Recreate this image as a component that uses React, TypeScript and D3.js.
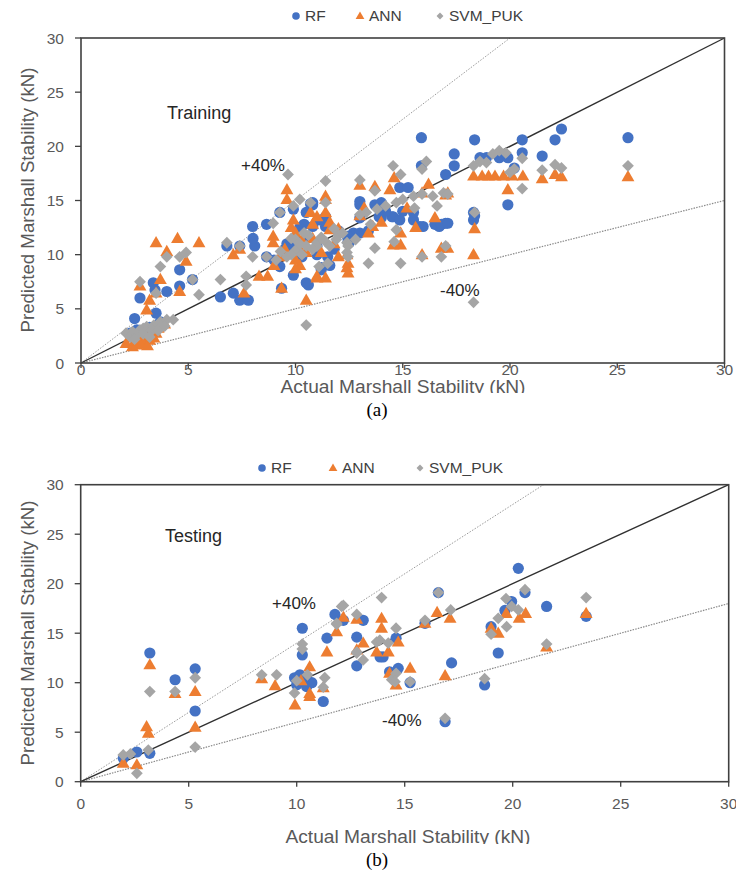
import React from "react";
import * as d3 from "d3";

type Pt = [number, number];

// ---------- DATA ----------
const tickValues = [0, 5, 10, 15, 20, 25, 30];
const seriesNames = ["RF", "ANN", "SVM_PUK"];
const seriesColors = ["#4472C4", "#ED7D31", "#A5A5A5"];
const seriesShapes = ["circle", "triangle", "diamond"];

const trainRF: Pt[] = [
  [2.3, 2.75], [2.6, 3.05], [2.5, 4.1], [2.75, 6.0], [3.37, 7.4], [3.5, 4.6], [3.7, 3.8], [2.7, 2.5], [3.0, 3.0],
  [3.2, 3.3], [3.45, 6.75], [4.0, 6.6], [4.6, 8.6], [4.6, 7.1], [5.2, 7.7], [6.5, 6.1], [7.1, 6.45], [7.4, 5.8],
  [7.8, 5.8], [6.8, 10.8], [7.4, 10.8], [8.0, 12.6], [8.65, 12.8], [9.27, 13.9], [8.1, 10.8], [8.65, 9.8],
  [9.27, 8.9], [9.35, 6.9], [9.9, 8.1], [10.5, 7.4], [10.8, 14.8], [10.5, 13.9], [9.9, 14.2], [10.8, 12.6],
  [11.4, 13.5], [11.4, 12.6], [12.4, 11.7], [12.7, 12.0], [8.02, 11.5], [10.8, 14.6], [11.4, 13.4], [12.5, 11.5],
  [12.5, 11.1], [13.0, 14.6], [13.0, 12.0], [13.7, 14.6], [13.9, 13.5], [14.5, 13.5], [15.0, 14.0], [15.5, 13.2],
  [15.8, 12.6], [16.7, 12.6], [17.0, 12.9], [18.3, 13.9], [18.3, 13.2], [10.6, 7.2], [11.2, 8.8], [11.5, 9.8],
  [10.7, 14.7], [13.0, 14.9], [14.0, 14.8], [13.0, 13.4], [14.0, 13.4], [12.45, 11.7], [12.45, 11.2], [14.86, 16.2],
  [15.25, 16.2], [14.55, 13.5], [14.86, 13.2], [15.5, 13.9], [15.95, 12.6], [16.5, 12.8], [16.8, 12.8], [17.1, 12.9],
  [15.87, 18.2], [17.0, 17.4], [11.1, 13.2], [11.2, 8.6], [18.35, 13.6], [15.87, 20.8], [18.35, 20.6], [20.57, 20.6],
  [22.1, 20.6], [22.4, 21.6], [25.5, 20.8], [17.4, 19.3], [17.4, 18.2], [18.6, 18.95], [18.9, 18.95], [19.5, 18.95],
  [19.9, 18.95], [20.57, 19.4], [21.5, 19.1], [19.9, 14.6], [20.2, 18.0], [10.0, 10.5], [10.3, 9.8], [11.0, 10.8],
  [11.6, 9.0], [10.2, 12.5], [9.6, 11.0], [9.0, 9.5], [9.5, 10.5], [10.0, 11.3], [10.4, 12.8], [11.0, 10.0],
  [11.8, 10.5], [12.0, 12.2], [9.8, 11.0], [10.6, 11.6], [13.4, 12.2], [14.2, 14.0], [2.9, 2.2], [3.3, 2.6],
  [3.6, 3.4],
];

const trainANN: Pt[] = [
  [2.1, 1.8], [2.4, 1.5], [2.6, 1.65], [2.9, 1.8], [3.2, 2.1], [3.5, 2.75], [2.5, 2.0], [3.0, 2.4], [3.3, 2.9],
  [3.6, 3.2], [2.8, 2.2], [3.7, 3.5], [3.5, 11.1], [4.5, 11.5], [5.5, 11.1], [4.0, 10.3], [4.9, 9.4], [2.75, 7.1],
  [3.7, 7.7], [3.2, 5.8], [3.06, 4.9], [3.5, 6.45], [4.6, 6.6], [7.1, 10.0], [7.4, 10.5], [7.6, 6.45], [8.3, 8.0],
  [8.7, 8.0], [9.35, 6.9], [9.6, 16.0], [9.6, 15.1], [9.9, 13.2], [8.96, 11.7], [10.2, 10.5], [10.5, 10.2],
  [10.5, 5.8], [10.2, 9.0], [11.0, 8.0], [11.4, 7.85], [11.4, 15.4], [11.4, 13.9], [11.0, 13.5], [12.4, 10.0],
  [12.4, 8.8], [9.27, 9.8], [8.96, 11.1], [14.6, 17.1], [18.3, 17.25], [18.7, 17.25], [19.0, 17.25], [19.3, 17.25],
  [19.7, 17.25], [20.1, 17.25], [20.6, 17.25], [21.5, 17.0], [22.1, 17.4], [22.4, 17.2], [25.5, 17.2], [19.9, 16.0],
  [13.7, 16.3], [14.4, 16.0], [13.0, 16.4], [10.7, 13.9], [11.4, 15.1], [13.0, 13.6], [13.6, 12.6], [13.4, 12.0],
  [14.9, 12.0], [14.9, 10.9], [14.55, 10.9], [15.6, 12.5], [16.5, 13.4], [15.9, 15.7], [15.9, 10.0], [16.8, 10.6],
  [17.1, 10.6], [18.3, 10.0], [18.35, 12.4], [12.45, 9.2], [12.45, 8.3], [11.0, 7.85], [10.0, 8.7], [17.1, 15.7],
  [17.0, 15.5], [16.2, 16.5], [15.2, 14.3], [10.0, 12.0], [10.8, 11.5], [11.6, 12.3], [12.0, 12.4], [9.0, 9.0],
  [9.5, 10.5], [10.0, 9.5], [10.3, 11.3], [11.2, 10.2], [11.8, 11.0], [12.0, 9.8], [9.8, 12.5], [10.8, 12.8],
  [11.6, 13.0], [2.3, 2.3], [2.7, 1.9], [3.1, 1.6], [3.4, 2.3], [3.9, 3.6], [14.0, 13.0], [13.2, 14.3],
];

const trainSVM: Pt[] = [
  [2.1, 2.75], [2.4, 2.9], [2.75, 3.05], [3.06, 3.36], [3.4, 3.5], [3.7, 3.8], [4.0, 4.0], [2.3, 2.4], [2.6, 2.6],
  [2.9, 3.2], [3.3, 3.0], [4.3, 4.0], [2.75, 7.5], [3.5, 6.45], [3.7, 8.9], [4.0, 9.8], [4.6, 9.8], [4.9, 10.2],
  [5.2, 7.7], [5.5, 6.3], [6.5, 7.7], [6.8, 11.1], [7.4, 10.8], [7.7, 8.0], [7.7, 7.2], [8.0, 9.8], [8.65, 9.8],
  [9.1, 9.5], [9.6, 9.8], [10.05, 10.5], [10.5, 10.8], [11.0, 11.1], [11.4, 11.2], [11.9, 11.4], [12.4, 11.1],
  [12.8, 11.4], [8.96, 12.9], [9.27, 13.9], [9.9, 14.5], [10.2, 15.1], [11.4, 14.8], [9.65, 17.4], [11.4, 16.8],
  [12.4, 10.2], [11.1, 8.9], [10.5, 3.5], [13.0, 16.9], [13.7, 15.9], [14.9, 17.4], [14.55, 18.2], [15.9, 17.9],
  [16.1, 18.6], [19.2, 19.3], [19.5, 19.6], [19.8, 19.4], [18.3, 18.2], [18.9, 18.5], [18.6, 18.6], [20.0, 17.6],
  [20.2, 17.9], [20.57, 18.9], [20.57, 16.1], [21.5, 17.8], [22.1, 18.3], [22.4, 18.0], [25.5, 18.2], [10.7, 14.8],
  [13.0, 13.7], [13.3, 13.9], [13.8, 14.2], [14.2, 14.5], [14.7, 14.8], [15.0, 15.1], [15.5, 15.4], [15.9, 15.6],
  [16.4, 15.4], [16.9, 15.7], [17.1, 15.6], [15.55, 14.3], [16.6, 14.5], [14.7, 12.3], [14.6, 11.2], [12.45, 10.8],
  [12.45, 9.8], [13.4, 9.2], [14.9, 9.2], [13.7, 10.6], [15.9, 9.8], [16.8, 9.8], [17.0, 10.8], [18.3, 5.6],
  [18.35, 13.9], [11.5, 9.2], [11.0, 10.8], [10.0, 11.4], [10.3, 10.0], [9.8, 11.5], [10.6, 11.8], [9.3, 10.3],
  [9.8, 10.0], [10.2, 11.0], [10.8, 10.5], [11.2, 11.6], [11.6, 10.8], [12.0, 11.8], [10.4, 12.0], [11.8, 12.4],
  [2.5, 2.2], [2.9, 2.7], [3.2, 2.4], [3.6, 3.0], [3.9, 3.4], [12.2, 12.0], [13.5, 12.8],
];

const testRF: Pt[] = [
  [1.97, 2.36], [2.6, 3.0], [3.2, 2.87], [3.2, 13.0], [4.37, 10.3], [5.3, 11.4], [5.3, 7.14], [9.9, 10.5],
  [10.15, 10.8], [10.26, 15.5], [10.26, 12.8], [10.46, 9.6], [10.5, 10.2], [11.23, 8.1], [11.4, 14.5], [11.77, 16.9],
  [12.16, 16.3], [12.78, 14.6], [12.78, 11.7], [13.08, 16.3], [13.86, 12.6], [14.0, 12.6], [14.6, 14.5], [14.3, 11.1],
  [14.7, 11.45], [15.25, 10.0], [15.94, 16.0], [16.56, 19.1], [17.17, 12.0], [18.7, 9.77], [19.0, 15.66],
  [19.33, 13.0], [19.64, 17.3], [19.95, 18.2], [20.26, 21.55], [20.57, 19.1], [21.57, 17.7], [23.4, 16.7],
  [16.87, 6.06], [10.0, 9.8], [10.7, 10.0],
];

const testANN: Pt[] = [
  [1.97, 1.86], [2.6, 1.7], [3.2, 11.8], [3.05, 5.55], [3.13, 4.9], [4.37, 8.9], [5.3, 9.1], [5.3, 5.5],
  [8.38, 10.4], [9.0, 9.7], [9.92, 7.75], [10.6, 11.6], [10.6, 8.9], [10.6, 8.6], [11.23, 9.5], [11.4, 13.1],
  [11.85, 15.15], [12.16, 16.6], [12.78, 16.4], [13.08, 14.0], [12.78, 13.3], [13.93, 16.5], [13.93, 15.5],
  [13.7, 13.1], [14.24, 13.1], [14.7, 14.1], [14.3, 10.95], [14.6, 9.77], [15.25, 11.45], [15.94, 16.0],
  [16.5, 17.1], [16.87, 10.7], [17.1, 16.5], [19.0, 15.5], [19.33, 15.0], [19.7, 17.0], [20.3, 16.5], [20.6, 17.0],
  [21.57, 13.6], [23.4, 17.0], [10.2, 10.2],
];

const testSVM: Pt[] = [
  [1.97, 2.7], [2.3, 2.8], [2.6, 0.85], [3.13, 3.2], [3.2, 9.1], [4.37, 9.1], [5.3, 10.5], [5.3, 3.5],
  [8.38, 10.8], [9.07, 10.8], [9.9, 8.95], [10.26, 13.9], [10.26, 13.4], [10.0, 10.2], [10.5, 10.8], [11.3, 10.5],
  [11.23, 9.55], [11.85, 15.9], [12.08, 17.7], [11.85, 16.0], [12.78, 16.9], [12.16, 17.8], [12.78, 13.1],
  [13.08, 12.3], [13.7, 14.1], [13.93, 18.6], [14.6, 15.5], [13.85, 14.3], [14.24, 14.0], [12.78, 13.0],
  [14.4, 10.3], [14.6, 10.95], [14.55, 10.1], [15.25, 10.1], [15.94, 16.3], [16.56, 19.1], [17.13, 17.35],
  [18.7, 10.4], [19.0, 14.9], [19.33, 16.5], [19.72, 15.66], [19.69, 18.5], [19.95, 17.7], [20.26, 17.35],
  [20.57, 19.4], [21.57, 13.9], [23.4, 18.6], [16.87, 6.4],
];

// ---------- DRAWING ----------
const FONT = "'Liberation Sans', Arial, sans-serif";
const AXIS = "#404040";
const TEXT = "#595959";

function Marker({ shape, x, y, s, color }: { shape: string; x: number; y: number; s: number; color: string }) {
  if (shape === "circle") return <circle cx={x} cy={y} r={s} fill={color} />;
  if (shape === "triangle") {
    const w = s * 2.3;
    const h = w * 0.87;
    return <path d={`M${x},${y - h * 0.6}L${x + w / 2},${y + h * 0.4}L${x - w / 2},${y + h * 0.4}Z`} fill={color} />;
  }
  const d = s * 1.05;
  return <path d={`M${x},${y - d}L${x + d},${y}L${x},${y + d}L${x - d},${y}Z`} fill={color} />;
}

type PanelProps = {
  id: string;
  x0: number; x1: number; y0: number; y1: number;
  series: Pt[][];
  upper: number; lower: number;
  label: string; labelPos: [number, number];
  plusPos: [number, number]; minusPos: [number, number];
  legendX: number[]; legendY: number;
  tickLabelY: number; titleY: number; titleX: number; titleClip: number;
  yTitleY: number;
  caption: string; captionY: number;
};

function Panel(p: PanelProps) {
  const x = d3.scaleLinear().domain([0, 30]).range([p.x0, p.x1]);
  const y = d3.scaleLinear().domain([0, 30]).range([p.y0, p.y1]);
  const line = d3.line<Pt>().x((d) => x(d[0])).y((d) => y(d[1]));
  const upperEnd: Pt = p.upper * 30 > 30 ? [30 / p.upper, 30] : [30, p.upper * 30];
  const lowerEnd: Pt = [30, p.lower * 30];
  return (
    <g>
      <defs>
        <clipPath id={`clip-${p.id}`}>
          <rect x={0} y={p.y0} width={736} height={p.titleClip - p.y0} />
        </clipPath>
      </defs>
      {/* legend */}
      {seriesNames.map((n, i) => (
        <g key={n}>
          <Marker shape={seriesShapes[i]} x={p.legendX[i]} y={p.legendY + 1} s={i === 2 ? 3.3 : 3.8} color={seriesColors[i]} />
          <text x={p.legendX[i] + 9} y={p.legendY + 6} fontSize={15.5} fontFamily={FONT} fill="#404040">{n}</text>
        </g>
      ))}
      {/* reference lines */}
      <path d={line([[0, 0], upperEnd])!} stroke="#9a9a9a" strokeWidth={1} strokeDasharray="1.5,1.5" fill="none" />
      <path d={line([[0, 0], lowerEnd])!} stroke="#8a8a8a" strokeWidth={1.2} strokeDasharray="1.5,1.2" fill="none" />
      <path d={line([[0, 0], [30, 30]])!} stroke="#303030" strokeWidth={1.4} fill="none" />
      {/* points */}
      {p.series.map((s, i) => (
        <g key={i}>
          {s.map((d, j) => (
            <Marker key={j} shape={seriesShapes[i]} x={x(d[0])} y={y(d[1])} s={5.6} color={seriesColors[i]} />
          ))}
        </g>
      ))}
      {/* frame */}
      <rect x={p.x0} y={p.y1} width={p.x1 - p.x0} height={p.y0 - p.y1} fill="none" stroke={AXIS} strokeWidth={1.6} />
      {/* ticks */}
      {tickValues.map((t) => (
        <g key={`x${t}`}>
          <line x1={x(t)} x2={x(t)} y1={p.y0} y2={p.y0 + 5} stroke={AXIS} strokeWidth={1.3} />
          <text x={x(t)} y={p.tickLabelY} textAnchor="middle" fontSize={15.5} fontFamily={FONT} fill={TEXT}>{t}</text>
        </g>
      ))}
      {tickValues.map((t) => (
        <g key={`y${t}`}>
          <line x1={p.x0 - 6} x2={p.x0} y1={y(t)} y2={y(t)} stroke={AXIS} strokeWidth={1.3} />
          <text x={p.x0 - 17} y={y(t) + 5.5} textAnchor="end" fontSize={15.5} fontFamily={FONT} fill={TEXT}>{t}</text>
        </g>
      ))}
      {/* annotations */}
      <text x={p.labelPos[0]} y={p.labelPos[1]} fontSize={18} fontFamily={FONT} fill="#262626">{p.label}</text>
      <text x={p.plusPos[0]} y={p.plusPos[1]} fontSize={17} fontFamily={FONT} fill="#262626">+40%</text>
      <text x={p.minusPos[0]} y={p.minusPos[1]} fontSize={17} fontFamily={FONT} fill="#262626">-40%</text>
      {/* axis titles */}
      <text x={p.titleX} y={p.titleY} textAnchor="middle" fontSize={17.5} fontFamily={FONT} fill={TEXT}
        clipPath={`url(#clip-${p.id})`} textLength={245} lengthAdjust="spacingAndGlyphs">
        Actual Marshall Stability (kN)
      </text>
      <text transform={`translate(34,${p.yTitleY}) rotate(-90)`} textAnchor="middle" fontSize={17.5} fontFamily={FONT}
        fill={TEXT} textLength={265} lengthAdjust="spacingAndGlyphs">
        Predicted Marshall Stability (kN)
      </text>
      <text x={377} y={p.captionY} textAnchor="middle" fontSize={19} fontFamily="'Liberation Serif', 'Times New Roman', serif" fill="#000">
        {p.caption}
      </text>
    </g>
  );
}

export default function App() {
  return (
    <svg width={736} height={881} style={{ position: "absolute", left: 0, top: 0, background: "#fff" }}>
      <rect width={736} height={881} fill="#fff" />
      <Panel
        id="a" x0={81} x1={724.5} y0={363} y1={38}
        series={[trainRF, trainANN, trainSVM]} upper={1.5} lower={0.5}
        label="Training" labelPos={[167, 119]} plusPos={[241, 171]} minusPos={[440, 296]}
        legendX={[296, 360, 440]} legendY={15}
        tickLabelY={374.5} titleX={403} titleY={393} titleClip={393} yTitleY={200}
        caption="(a)" captionY={416}
      />
      <Panel
        id="b" x0={80.7} x1={728.7} y0={781.7} y1={484.7}
        series={[testRF, testANN, testSVM]} upper={1.4} lower={0.6}
        label="Testing" labelPos={[165, 542]} plusPos={[272, 609]} minusPos={[382, 726]}
        legendX={[262, 333, 420]} legendY={467}
        tickLabelY={809} titleX={408} titleY={843} titleClip={844} yTitleY={633}
        caption="(b)" captionY={866}
      />
    </svg>
  );
}
